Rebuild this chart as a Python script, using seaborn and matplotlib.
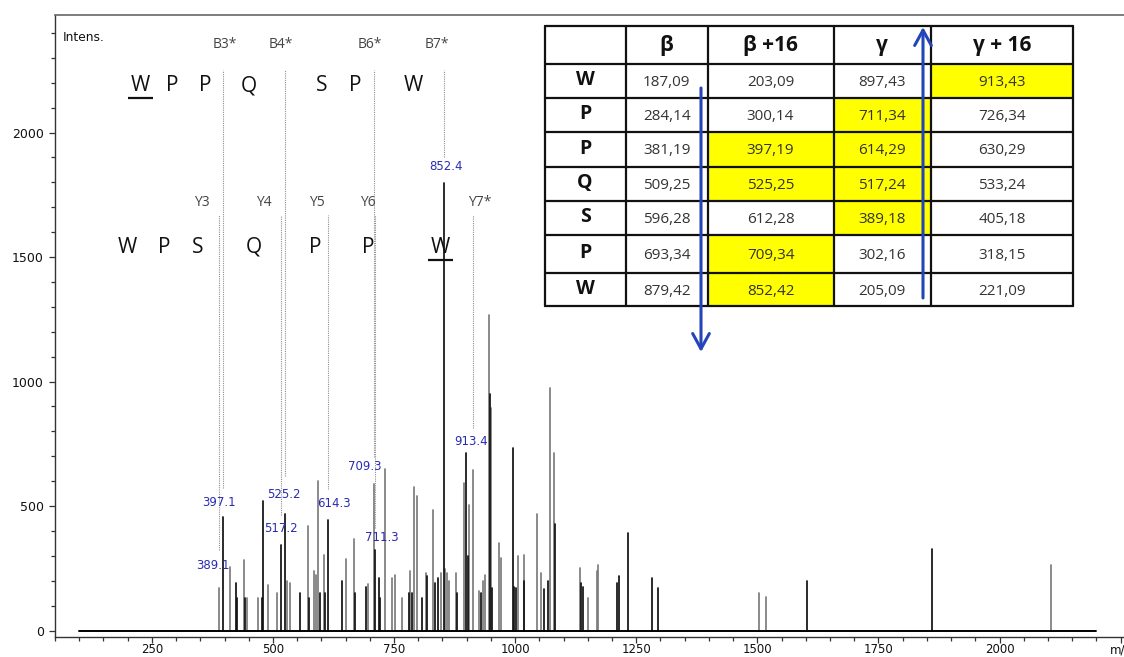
import numpy as np
import pandas as pd
import matplotlib
matplotlib.use("Agg")
import matplotlib.pyplot as plt
from matplotlib.patches import Rectangle
from matplotlib.ticker import FixedLocator, FixedFormatter, MultipleLocator
import seaborn as sns

# ---------------------------------------------------------------- spectrum data
# dark trace peaks (m/z, intensity)
dark_mz = [397.1, 423, 425, 442, 477, 479, 517.2, 525.2, 556, 575, 598, 608,
           614.3, 643, 670, 693, 711.3, 719, 722, 780, 788, 807, 818, 835,
           841, 852.4, 880, 898, 902, 930, 948.6, 952, 996, 998, 1001, 1019,
           1060, 1067, 1082, 1136, 1140, 1211, 1215, 1234, 1282, 1295, 1602,
           1860]
dark_int = [455, 190, 130, 130, 130, 522, 344, 466, 150, 130, 150, 150,
            442, 200, 150, 176, 325, 210, 130, 150, 150, 132, 220, 190,
            210, 1798, 150, 712, 300, 150, 950, 170, 735, 175, 170, 200,
            166, 200, 426, 190, 175, 190, 220, 390, 210, 170, 200,
            327]

# light trace peaks (m/z, intensity)
light_mz = [389.1, 411, 440, 447, 470, 489, 508, 530, 536, 572, 585, 588,
            594, 605, 650, 667, 697, 709.3, 732, 745, 751, 766, 783, 792,
            797, 815, 831, 847, 856, 859, 864, 877, 894, 905, 913.4, 926,
            933, 938, 946, 951, 966, 970, 1005, 1019, 1045, 1053, 1071, 1080,
            1134, 1151, 1168, 1172, 1504, 1518, 2107]
light_int = [170, 257, 285, 130, 130, 181, 150, 197, 190, 421, 241, 225,
             602, 305, 288, 367, 187, 589, 649, 212, 225, 132, 240, 578,
             542, 232, 486, 230, 249, 230, 200, 230, 593, 506, 646, 160,
             200, 225, 1269, 892, 350, 290, 300, 305, 467, 230, 973, 714,
             253, 130, 238, 265, 150, 133, 263]

baseline_mz = [100, 2200]

# labelled fragment peaks
labelled_mz = [389.1, 397.1, 517.2, 525.2, 614.3, 709.3, 711.3, 852.4, 913.4]

# fragment ion series marked on the spectrum
b_names = ["B3*", "B4*", "B6*", "B7*"]
b_mz = [397.1, 525.2, 709.3, 852.4]
y_names = ["Y3", "Y4", "Y5", "Y6", "Y7*"]
y_mz = [389.1, 517.2, 614.3, 711.3, 913.4]

# sequence read along each series
seq_top = ["W", "P", "P", "Q", "S", "P", "W"]
seq_bottom = ["W", "P", "S", "Q", "P", "P", "W"]

# theoretical fragment table
res_names = ["W", "P", "P", "Q", "S", "P", "W"]
col_names = ["β", "β +16", "γ", "γ + 16"]
beta = [187.09, 284.14, 381.19, 509.25, 596.28, 693.34, 879.42]
beta16 = [203.09, 300.14, 397.19, 525.25, 612.28, 709.34, 852.42]
gamma = [897.43, 711.34, 614.29, 517.24, 389.18, 302.16, 205.09]
gamma16 = [913.43, 726.34, 630.29, 533.24, 405.18, 318.15, 221.09]

x_major = [250, 500, 750, 1000, 1250, 1500, 1750, 2000]

# ---------------------------------------------------------------- style
sns.set_theme(style="ticks")
plt.rcParams["font.family"] = ["DejaVu Sans"]
SANS = ["Open Sans", "DejaVu Sans"]
BLUE = "#2a2ab4"

W, H = 1124, 657
fig = plt.figure(figsize=(W / 100, H / 100), dpi=100)
fig.patch.set_facecolor("white")
ax = fig.add_axes([55 / W, 20 / H, 1 - 55 / W, 622 / H])
ax.set_facecolor("white")

# ---------------------------------------------------------------- peaks
peaks = pd.concat([
    pd.DataFrame({"mz": light_mz, "intensity": light_int, "trace": "light"}),
    pd.DataFrame({"mz": dark_mz, "intensity": dark_int, "trace": "dark"}),
], ignore_index=True)
peaks["peak"] = np.arange(len(peaks))
stems = pd.concat([peaks.assign(level=0.0),
                   peaks.assign(level=peaks["intensity"].astype(float))])
stems = stems.sort_values(["peak", "level"], kind="stable")

sns.lineplot(data=stems, x="mz", y="level", hue="trace", units="peak",
             estimator=None, sort=False, hue_order=["light", "dark"],
             palette={"light": "#7c7c7c", "dark": "#111111"},
             lw=1.25, legend=False, ax=ax)
sns.lineplot(x=baseline_mz, y=[0, 0], color="black", lw=1.4, ax=ax)

# ---------------------------------------------------------------- ion markers
b_top, y_top = 2251, 1669
b_bottom = [572, 620, 697, 1902]
y_bottom = [323, 464, 568, 412, 813]
ax.vlines(b_mz, b_bottom, b_top, colors="#8f8f8f", lw=0.8,
          linestyles=(0, (1, 1)))
ax.vlines(y_mz, y_bottom, y_top, colors="#8f8f8f", lw=0.8,
          linestyles=(0, (1, 1)))

b_dx = [2, -4, -5, -7]
for name, mz, dx in zip(b_names, b_mz, b_dx):
    ax.annotate(name, xy=(mz, 2355), xytext=(dx, 0), textcoords="offset pixels",
                ha="center", va="center", fontsize=10, color="#444444",
                family=SANS)
y_dx = [-17, -17, -11, -7, 7]
for name, mz, dx in zip(y_names, y_mz, y_dx):
    ax.annotate(name, xy=(mz, 1717), xytext=(dx, 0), textcoords="offset pixels",
                ha="center", va="center", fontsize=10, color="#444444",
                family=SANS)

# peak value labels
lab_y = [263, 516, 409, 548, 512, 658, 375, 1863, 758]
lab_dx = [-6, -4, 0, -1, 6, -10, 6, 2, -2]
for mz, yy, dx in zip(labelled_mz, lab_y, lab_dx):
    ax.annotate(f"{mz:.1f}", xy=(mz, yy), xytext=(dx, 0),
                textcoords="offset pixels", ha="center", va="center",
                fontsize=8.5, color=BLUE)

# sequence letters
top_pos = [225.6, 292, 360.6, 450.6, 601.3, 669.4, 790.3]
bot_pos = [198.4, 275.8, 344.3, 460, 586.8, 696, 845.8]
for ch, xx in zip(seq_top, top_pos):
    ax.text(xx, 2187, ch, ha="center", va="center", fontsize=15,
            color="#111111", family=SANS)
for ch, xx in zip(seq_bottom, bot_pos):
    ax.text(xx, 1540, ch, ha="center", va="center", fontsize=15,
            color="#111111", family=SANS)
ax.plot([200.6, 252.2], [2137, 2137], color="#111111", lw=1.6,
        solid_capstyle="butt")
ax.plot([820.0, 871.5], [1488, 1488], color="#111111", lw=1.6,
        solid_capstyle="butt")

# ---------------------------------------------------------------- axes
ax.set_xlim(50, 2257)
ax.set_ylim(-26, 2472)
ax.xaxis.set_major_locator(FixedLocator(x_major + [2250]))
ax.xaxis.set_major_formatter(FixedFormatter([str(v) for v in x_major] + ["m/z"]))
ax.xaxis.set_minor_locator(MultipleLocator(50))
ax.yaxis.set_major_locator(MultipleLocator(500))
ax.yaxis.set_minor_locator(MultipleLocator(100))
ax.set_xlabel("")
ax.set_ylabel("")
ax.tick_params(which="both", direction="out", color="#333333", width=0.9,
               labelcolor="#111111")
ax.tick_params(which="major", length=4)
ax.tick_params(which="minor", length=3)
ax.tick_params(axis="y", which="major", labelsize=9, pad=4)
ax.tick_params(axis="x", which="major", labelsize=8.5, pad=0.5)
ax.spines["right"].set_visible(False)
for side in ["left", "bottom"]:
    ax.spines[side].set_color("#333333")
    ax.spines[side].set_linewidth(1.0)
ax.spines["top"].set_color("#666666")
ax.spines["top"].set_linewidth(1.2)
ax.text(0.007, 0.9646, "Intens.", transform=ax.transAxes, fontsize=8.8,
        ha="left", va="center", color="#111111")

# ---------------------------------------------------------------- table overlay
ov = fig.add_axes([0, 0, 1, 1], zorder=5)
ov.set_xlim(0, W)
ov.set_ylim(H, 0)
ov.axis("off")
ov.patch.set_alpha(0)

col_edges = [544.5, 625.7, 707.6, 833.5, 931.0, 1073.3]
row_edges = [26, 64, 97.7, 132.3, 166.7, 201, 235, 273.3, 306]

columns = [beta, beta16, gamma, gamma16]
ov.add_patch(Rectangle((col_edges[0], row_edges[0]),
                       col_edges[-1] - col_edges[0],
                       row_edges[-1] - row_edges[0],
                       facecolor="white", edgecolor="none"))
for r in range(len(res_names)):
    for c, vals in enumerate(columns):
        v = vals[r]
        hit = any(abs(v - p) < 0.15 for p in labelled_mz)
        x0, x1 = col_edges[c + 1], col_edges[c + 2]
        y0, y1 = row_edges[r + 1], row_edges[r + 2]
        if hit:
            ov.add_patch(Rectangle((x0, y0), x1 - x0, y1 - y0,
                                   facecolor="#ffff00", edgecolor="none"))
        ov.text((x0 + x1) / 2, (y0 + y1) / 2 + 1.5,
                f"{v:.2f}".replace(".", ","), ha="center", va="center",
                fontsize=11, color="#333333", family=SANS)
    ov.text((col_edges[0] + col_edges[1]) / 2,
            (row_edges[r + 1] + row_edges[r + 2]) / 2 - 1,
            res_names[r], ha="center", va="center", fontsize=14,
            fontweight="bold", color="#111111", family=SANS)
for c, name in enumerate(col_names):
    ov.text((col_edges[c + 1] + col_edges[c + 2]) / 2,
            (row_edges[0] + row_edges[1]) / 2,
            name, ha="center", va="center", fontsize=15, fontweight="bold",
            color="#111111", family=SANS)
for xe in col_edges:
    ov.plot([xe, xe], [row_edges[0], row_edges[-1]], color="#111111", lw=1.6)
for ye in row_edges:
    ov.plot([col_edges[0], col_edges[-1]], [ye, ye], color="#111111", lw=1.6)

arrow = dict(arrowstyle="->,head_length=0.55,head_width=0.3", color="#2445b8",
             lw=2.2, mutation_scale=20, shrinkA=0, shrinkB=0)
ov.annotate("", xy=(701, 352), xytext=(701, 88), arrowprops=arrow)
ov.annotate("", xy=(923, 27), xytext=(923, 298), arrowprops=arrow)

fig.savefig("out.png", dpi=100, facecolor="white")
